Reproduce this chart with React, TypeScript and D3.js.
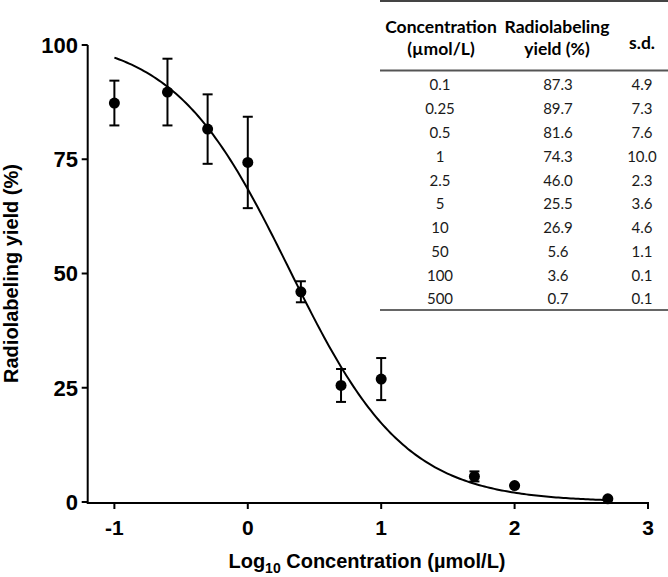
import React from "react";
import * as d3 from "d3";

const concentrations = ["0.1", "0.25", "0.5", "1", "2.5", "5", "10", "50", "100", "500"];
const yields = [87.3, 89.7, 81.6, 74.3, 46.0, 25.5, 26.9, 5.6, 3.6, 0.7];
const sds = [4.9, 7.3, 7.6, 10.0, 2.3, 3.6, 4.6, 1.1, 0.1, 0.1];
const yieldLabels = ["87.3", "89.7", "81.6", "74.3", "46.0", "25.5", "26.9", "5.6", "3.6", "0.7"];
const sdLabels = ["4.9", "7.3", "7.6", "10.0", "2.3", "3.6", "4.6", "1.1", "0.1", "0.1"];
const xTicks = [-1, 0, 1, 2, 3];
const yTicks = [0, 25, 50, 75, 100];
// fitted 4PL curve parameters: [bottom, top, logIC50, hill]
const fitParams = [0, 102, 0.31, 1.0];

const W = 668;
const H = 577;

export default function App() {
  const x = d3.scaleLinear().domain([-1.2, 3]).range([87.7, 648]);
  const y = d3.scaleLinear().domain([0, 100]).range([502, 45]);
  const [bottom, top, logIC50, hill] = fitParams;
  const logs = concentrations.map((c) => Math.log10(+c));
  const xMin = d3.min(logs) as number;
  const xMax = d3.max(logs) as number;
  const curvePts: [number, number][] = d3
    .range(0, 201)
    .map((i) => xMin + ((xMax - xMin) * i) / 200)
    .map((lx) => [lx, bottom + (top - bottom) / (1 + Math.pow(10, (lx - logIC50) * hill))]);
  const line = d3
    .line<[number, number]>()
    .x((d) => x(d[0]))
    .y((d) => y(d[1]))
    .curve(d3.curveLinear);

  const axisFont = "'Liberation Sans', Arial, sans-serif";
  const tableFont = "Lato, 'Open Sans', sans-serif";
  const rowY = d3.scaleLinear().domain([0, 9]).range([85, 299]);
  const colX = [441, 557, 642];

  return (
    <>
      <style>{`body{margin:0}`}</style>
      <svg width={W} height={H} style={{ display: "block", background: "#fff" }}>
        {/* axes */}
        <g stroke="#000" strokeWidth={2} fill="none">
          <line x1={x(-1.2)} x2={x(-1.2)} y1={y(100)} y2={y(0) + 1} />
          <line x1={x(-1.2) - 1} x2={x(3) + 1} y1={y(0) + 1} y2={y(0) + 1} />
          {yTicks.map((t) => (
            <line key={"yt" + t} x1={x(-1.2) - 6} x2={x(-1.2)} y1={y(t)} y2={y(t)} />
          ))}
          {xTicks.map((t) => (
            <line key={"xt" + t} x1={x(t)} x2={x(t)} y1={y(0) + 1} y2={y(0) + 7} />
          ))}
        </g>
        <g fontFamily={axisFont} fontWeight="bold" fill="#000">
          {yTicks.map((t) => (
            <text key={"yl" + t} x={78} y={y(t)} dy="0.36em" textAnchor="end" fontSize={22}>
              {t}
            </text>
          ))}
          {xTicks.map((t) => (
            <text key={"xl" + t} x={x(t)} y={535} textAnchor="middle" fontSize={21}>
              {t}
            </text>
          ))}
          <text x={367} y={568} textAnchor="middle" fontSize={20}>
            Log<tspan fontSize={14} dy={5}>10</tspan>
            <tspan dy={-5}> Concentration (µmol/L)</tspan>
          </text>
          <text
            transform={`translate(17.5, ${(y(0) + y(100)) / 2}) rotate(-90)`}
            textAnchor="middle"
            fontSize={20}
          >
            Radiolabeling yield (%)
          </text>
        </g>

        {/* curve */}
        <path d={line(curvePts) || ""} fill="none" stroke="#000" strokeWidth={2} />

        {/* error bars and points */}
        <g stroke="#000" strokeWidth={2}>
          {logs.map((lx, i) => (
            <g key={"eb" + i}>
              <line x1={x(lx)} x2={x(lx)} y1={y(yields[i] - sds[i])} y2={y(yields[i] + sds[i])} />
              <line x1={x(lx) - 5} x2={x(lx) + 5} y1={y(yields[i] - sds[i])} y2={y(yields[i] - sds[i])} />
              <line x1={x(lx) - 5} x2={x(lx) + 5} y1={y(yields[i] + sds[i])} y2={y(yields[i] + sds[i])} />
            </g>
          ))}
        </g>
        <g fill="#000">
          {logs.map((lx, i) => (
            <circle key={"pt" + i} cx={x(lx)} cy={y(yields[i])} r={5.5} />
          ))}
        </g>

        {/* table */}
        <g>
          <rect x={380} y={0} width={288} height={310} fill="#fff" />
          <line x1={380} x2={668} y1={1} y2={1} stroke="#444" strokeWidth={2} />
          <line x1={380} x2={668} y1={70.5} y2={70.5} stroke="#555" strokeWidth={2} />
          <line x1={380} x2={668} y1={310} y2={310} stroke="#666" strokeWidth={2} />
          <g fontFamily={tableFont} fontWeight="bold" fontSize={17.5} fill="#000" textAnchor="middle">
            <text x={colX[0]} y={33}>Concentration</text>
            <text x={colX[0]} y={55}>(µmol/L)</text>
            <text x={colX[1]} y={33}>Radiolabeling</text>
            <text x={colX[1]} y={55}>yield (%)</text>
            <text x={642} y={49}>s.d.</text>
          </g>
          <g fontFamily={tableFont} fontSize={15} fill="#1a1a1a" textAnchor="middle">
            {concentrations.map((c, i) => (
              <g key={"row" + i}>
                <text x={440} y={rowY(i)} dy="0.36em">{c}</text>
                <text x={558} y={rowY(i)} dy="0.36em">{yieldLabels[i]}</text>
                <text x={642} y={rowY(i)} dy="0.36em">{sdLabels[i]}</text>
              </g>
            ))}
          </g>
        </g>
      </svg>
    </>
  );
}
